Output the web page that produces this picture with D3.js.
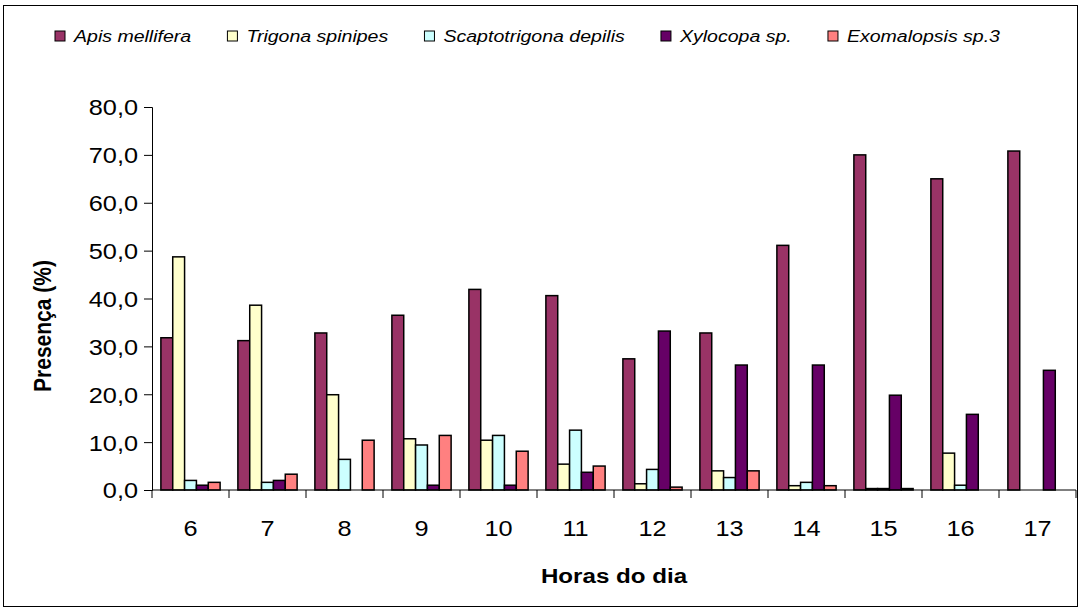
<!DOCTYPE html>
<html>
<head>
<meta charset="utf-8">
<script src="https://cdn.jsdelivr.net/npm/d3@7"></script>
<style>
  html, body { margin: 0; padding: 0; background: #fff; }
  svg { display: block; }
  text { font-family: "Liberation Sans", Arial, sans-serif; fill: #000; }
</style>
</head>
<body>
<svg id="chart" width="1081" height="612"></svg>
<script>
// ---- data ----
const hours = ["6", "7", "8", "9", "10", "11", "12", "13", "14", "15", "16", "17"];
const seriesNames = ["Apis mellifera", "Trigona spinipes", "Scaptotrigona depilis", "Xylocopa sp.", "Exomalopsis sp.3"];
const apisMellifera        = [31.8, 31.2, 32.8, 36.5, 41.9, 40.6, 27.4, 32.8, 51.1, 70.0, 65.0, 70.8];
const trigonaSpinipes      = [48.7, 38.6, 19.9, 10.7, 10.4, 5.4, 1.3, 4.0, 0.9, 0.3, 7.7, 0];
const scaptotrigonaDepilis = [2.0, 1.6, 6.4, 9.4, 11.4, 12.5, 4.3, 2.6, 1.6, 0.3, 1.0, 0];
const xylocopa             = [1.0, 2.0, 0, 1.0, 1.0, 3.7, 33.2, 26.1, 26.1, 19.8, 15.8, 25.0];
const exomalopsis          = [1.6, 3.3, 10.4, 11.4, 8.1, 5.0, 0.6, 4.0, 0.9, 0.3, 0, 0];
const yTicks = [0, 10, 20, 30, 40, 50, 60, 70, 80];
const colors = ["#993366", "#FFFFCC", "#CCFFFF", "#660066", "#FF8080"];

const seriesValues = [apisMellifera, trigonaSpinipes, scaptotrigonaDepilis, xylocopa, exomalopsis];
const table = hours.map((h, i) => ({ hour: h, values: seriesValues.map(s => s[i]) }));

// ---- layout ----
const SX = 1.15; // horizontal stretch of the original text
const svg = d3.select("#chart");
const plotLeft = 152, plotRight = 1076, plotTop = 107, plotBottom = 490;

svg.append("rect").attr("x", 3.5).attr("y", 5.5).attr("width", 1074).attr("height", 601)
  .attr("fill", "#fff").attr("stroke", "#000").attr("stroke-width", 1);

const pi = 1.5 / 6.5;
const x = d3.scaleBand().domain(hours).range([plotLeft, plotRight]).paddingInner(pi).paddingOuter(pi / 2);
const xs = d3.scaleBand().domain(d3.range(5)).range([0, x.bandwidth()]);
const y = d3.scaleLinear().domain([0, 80]).range([plotBottom, plotTop]);

// bars
const g = svg.append("g");
g.selectAll("g.grp").data(table).join("g").attr("class", "grp")
  .attr("transform", d => `translate(${x(d.hour)},0)`)
  .selectAll("rect").data(d => d.values.map((v, k) => ({ v, k })))
  .join("rect")
  .attr("x", d => xs(d.k))
  .attr("width", xs.bandwidth())
  .attr("y", d => y(d.v))
  .attr("height", d => y(0) - y(d.v))
  .attr("fill", d => colors[d.k])
  .attr("stroke", "#000").attr("stroke-width", 1.5);

// y axis
const yAxis = svg.append("g").attr("transform", `translate(${plotLeft},0)`)
  .call(d3.axisLeft(y).tickValues(yTicks).tickSize(8).tickPadding(0)
    .tickFormat(d => d.toFixed(1).replace(".", ",")));
yAxis.select(".domain").attr("stroke", "#000");
yAxis.selectAll(".tick line").attr("stroke", "#000");
yAxis.selectAll(".tick text")
  .attr("x", -14 / SX).attr("dy", "0.36em")
  .attr("transform", `scale(${SX},1)`)
  .style("font-size", "22px");

// x axis (labels)
const xAxis = svg.append("g").attr("transform", `translate(0,${plotBottom})`)
  .call(d3.axisBottom(x).tickSize(0).tickPadding(0));
xAxis.select(".domain").remove();
xAxis.selectAll(".tick text")
  .attr("y", 46).attr("dy", 0)
  .attr("transform", `scale(${SX},1)`)
  .style("font-size", "22px");
svg.append("line").attr("x1", plotLeft).attr("x2", plotRight).attr("y1", plotBottom).attr("y2", plotBottom)
  .attr("stroke", "#000");
// category boundary ticks
const half = (x.step() - x.bandwidth()) / 2;
const bounds = hours.map(h => x(h) - half).concat([x(hours[hours.length - 1]) + x.bandwidth() + half]);
svg.append("g").selectAll("line").data(bounds).join("line")
  .attr("x1", d => d).attr("x2", d => d).attr("y1", plotBottom).attr("y2", plotBottom + 8)
  .attr("stroke", "#000");

// axis titles
svg.append("g").attr("transform", `translate(614,583) scale(${SX},1)`)
  .append("text").attr("text-anchor", "middle")
  .style("font-size", "21px").style("font-weight", "bold").text("Horas do dia");
svg.append("g").attr("transform", `translate(51,326) scale(${SX},1) rotate(-90)`)
  .append("text").attr("text-anchor", "middle")
  .style("font-size", "21px").style("font-weight", "bold").text("Presença (%)");

// legend
const leg = svg.append("g");
const items = seriesNames.map((n, k) => {
  const it = leg.append("g");
  it.append("rect").attr("x", 0).attr("y", -5).attr("width", 10).attr("height", 10)
    .attr("fill", colors[k]).attr("stroke", "#000").attr("stroke-width", 1);
  const tg = it.append("g").attr("transform", `translate(19,0) scale(${SX},1)`);
  const t = tg.append("text").attr("dy", "0.36em").style("font-size", "17px")
    .style("font-style", "italic").text(n);
  const w = 19 + t.node().getComputedTextLength() * SX;
  return { it, w };
});
const legStart = 55, legEnd = 1000;
const totalW = d3.sum(items, d => d.w);
const gap = (legEnd - legStart - totalW) / (items.length - 1);
let cx = legStart;
items.forEach(d => { d.it.attr("transform", `translate(${cx},36)`); cx += d.w + gap; });
</script>
</body>
</html>
